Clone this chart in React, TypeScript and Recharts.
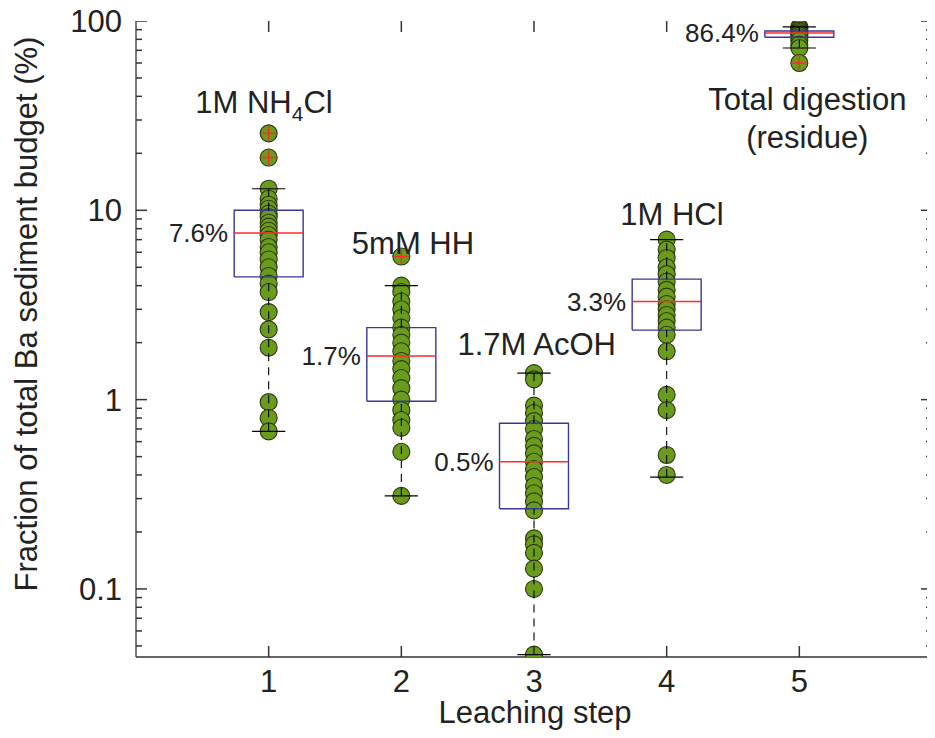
import React from 'react';
import { ComposedChart, Scatter, XAxis, YAxis } from 'recharts';

// ---------------- data ----------------
const steps = [1, 2, 3, 4, 5];

const step1Points = [13.0, 11.5, 10.7, 10.2, 9.6, 9.2, 8.6, 8.2, 7.8, 7.4, 7.0, 6.4, 6.0, 5.5, 5.0, 4.5, 4.1, 3.7, 2.9, 2.35, 1.88, 0.97, 0.8, 0.68];
const step2Points = [4.0, 3.7, 3.3, 3.0, 2.7, 2.4, 2.2, 2.0, 1.8, 1.6, 1.45, 1.3, 1.15, 1.0, 0.88, 0.78, 0.71, 0.53, 0.31];
const step3Points = [1.38, 1.28, 0.93, 0.85, 0.77, 0.7, 0.62, 0.57, 0.52, 0.47, 0.43, 0.39, 0.35, 0.32, 0.29, 0.26, 0.185, 0.172, 0.155, 0.128, 0.1, 0.045];
const step4Points = [7.0, 6.2, 5.6, 5.0, 4.6, 4.2, 3.8, 3.5, 3.2, 3.0, 2.8, 2.6, 2.4, 2.2, 1.8, 1.06, 0.88, 0.51, 0.4];
const step5Points = [93, 91, 89, 87.5, 86, 84, 82, 79, 75, 72];

const step1Outliers = [25.5, 19.0];
const step2Outliers = [5.7];
const step3Outliers: number[] = [];
const step4Outliers: number[] = [];
const step5Outliers = [60];

const q1Values = [4.45, 0.98, 0.265, 2.33, 82];
const medianValues = [7.6, 1.7, 0.47, 3.3, 86.4];
const q3Values = [10.0, 2.4, 0.75, 4.33, 88.5];
const whiskerLow = [0.68, 0.31, 0.045, 0.39, 72];
const whiskerHigh = [13.0, 4.0, 1.38, 7.0, 93];
const medianLabels = ['7.6%', '1.7%', '0.5%', '3.3%', '86.4%'];

const annotationLabels = ['1M NH4Cl', '5mM HH', '1.7M AcOH', '1M HCl', 'Total digestion', '(residue)'];
const annotationX = [0.965, 2.088, 3.02, 4.04, 5.06, 5.06];
const annotationY = [37.3, 6.7, 1.97, 9.55, 38.7, 24.4];

const xDomain = [0, 6];
const yDomain = [0.0437, 100];
const xTicks = [1, 2, 3, 4, 5];
const yMajorTicks = [0.1, 1, 10, 100];
const yMinorTicks = [0.05, 0.06, 0.07, 0.08, 0.09, 0.2, 0.3, 0.4, 0.5, 0.6, 0.7, 0.8, 0.9, 2, 3, 4, 5, 6, 7, 8, 9, 20, 30, 40, 50, 60, 70, 80, 90];

const xTitle = 'Leaching step';
const yTitle = 'Fraction of total Ba sediment budget (%)';

// ---------------- layout & styles ----------------
const CHART_W = 927;
const CHART_H = 730;
const MARGIN = { top: 13, right: 3, bottom: 0, left: 0 };
const X_AXIS_H = 81;
const Y_AXIS_W = 128;
const PLOT_H = CHART_H - MARGIN.top - MARGIN.bottom - X_AXIS_H;

const FONT = '"Liberation Sans", Arial, Helvetica, sans-serif';
const TEXT = '#222222';
const AXIS = '#333333';
const GREEN = '#6a9c1c';
const DARK = '#2b3512';
const RED = '#ff2a2a';
const BLUE = '#383896';
const BOX_HALF = 0.26;
const CAP_HALF = 0.125;
const MAJOR_LEN = 11;
const MINOR_LEN = 6;

const allPoints = [step1Points, step2Points, step3Points, step4Points, step5Points];
const allOutliers = [step1Outliers, step2Outliers, step3Outliers, step4Outliers, step5Outliers];

const pointData = allPoints.map((vals, i) => vals.map((v) => ({ x: steps[i], y: v })));
const outlierData = allOutliers.map((vals, i) => vals.map((v) => ({ x: steps[i], y: v })));
const boxData = steps.map((s, i) => [
  { x: s - BOX_HALF, y: q1Values[i] },
  { x: s + BOX_HALF, y: q1Values[i] },
  { x: s + BOX_HALF, y: q3Values[i] },
  { x: s - BOX_HALF, y: q3Values[i] },
  { x: s - BOX_HALF, y: q1Values[i] },
]);
const medianData = steps.map((s, i) => [
  { x: s - BOX_HALF, y: medianValues[i] },
  { x: s + BOX_HALF, y: medianValues[i] },
]);
const upperWhiskerData = steps.map((s, i) => [
  { x: s, y: q3Values[i] },
  { x: s, y: whiskerHigh[i] },
]);
const lowerWhiskerData = steps.map((s, i) => [
  { x: s, y: whiskerLow[i] },
  { x: s, y: q1Values[i] },
]);
const upperCapData = steps.map((s, i) => [
  { x: s - CAP_HALF, y: whiskerHigh[i] },
  { x: s + CAP_HALF, y: whiskerHigh[i] },
]);
const lowerCapData = steps.map((s, i) => [
  { x: s - CAP_HALF, y: whiskerLow[i] },
  { x: s + CAP_HALF, y: whiskerLow[i] },
]);
const medianLabelData = steps.map((s, i) => ({ x: s - BOX_HALF, y: medianValues[i], label: medianLabels[i] }));
const annotationData = annotationLabels.map((t, i) => ({ x: annotationX[i], y: annotationY[i], label: t }));

const yAllTicks = [...yMinorTicks, ...yMajorTicks].sort((a, b) => a - b);
const leftTickData = yAllTicks.map((v) => ({ x: xDomain[0], y: v, major: yMajorTicks.includes(v) }));
const rightTickData = yAllTicks.map((v) => ({ x: xDomain[1], y: v, major: yMajorTicks.includes(v) }));
const bottomTickData = xTicks.map((k) => ({ x: k, y: yDomain[0] }));
const topTickData = xTicks.map((k) => ({ x: k, y: yDomain[1] }));
const rightFrameData = [{ x: xDomain[1], y: yDomain[0] }];

// ---------------- renderers ----------------
function renderChem(s: string) {
  const m = s.match(/^(.*[A-Z])(\d+)([A-Z].*)$/);
  if (!m) return s;
  return [
    <tspan key="a">{m[1]}</tspan>,
    <tspan key="b" dy={8} fontSize={21}>{m[2]}</tspan>,
    <tspan key="c" dy={-8}>{m[3]}</tspan>,
  ];
}

const Empty = () => <g />;

const Dot = (p: any) => (
  <circle cx={p.cx} cy={p.cy} r={8.5} fill={GREEN} stroke={DARK} strokeWidth={1.1} />
);

const OutlierDot = (p: any) => (
  <g>
    <circle cx={p.cx} cy={p.cy} r={8.5} fill={GREEN} stroke={DARK} strokeWidth={1.1} />
    <line x1={p.cx - 7} x2={p.cx + 7} y1={p.cy} y2={p.cy} stroke={RED} strokeWidth={1.5} />
    <line x1={p.cx} x2={p.cx} y1={p.cy - 7} y2={p.cy + 7} stroke={RED} strokeWidth={1.5} />
  </g>
);

const MedianLabel = (p: any) => (
  <text x={p.cx - 6} y={p.cy} dy="0.36em" textAnchor="end" fontSize={26} fill={TEXT} fontFamily={FONT}>
    {p.payload.label}
  </text>
);

const Annotation = (p: any) => (
  <text x={p.cx} y={p.cy} dy="0.36em" textAnchor="middle" fontSize={31} fill={TEXT} fontFamily={FONT}>
    {renderChem(p.payload.label)}
  </text>
);

const LeftMark = (p: any) => (
  <line x1={p.cx} x2={p.cx + (p.payload.major ? MAJOR_LEN : MINOR_LEN)} y1={p.cy} y2={p.cy} stroke={AXIS} strokeWidth={1.5} />
);
const RightMark = (p: any) => (
  <line x1={p.cx} x2={p.cx - (p.payload.major ? MAJOR_LEN : MINOR_LEN)} y1={p.cy} y2={p.cy} stroke={AXIS} strokeWidth={1.5} />
);
const BottomMark = (p: any) => (
  <line x1={p.cx} x2={p.cx} y1={p.cy} y2={p.cy - MAJOR_LEN} stroke={AXIS} strokeWidth={1.5} />
);
const TopMark = (p: any) => (
  <line x1={p.cx} x2={p.cx} y1={p.cy} y2={p.cy + MAJOR_LEN} stroke={AXIS} strokeWidth={1.5} />
);
const RightFrame = (p: any) => (
  <line x1={p.cx - 0.7} x2={p.cx - 0.7} y1={p.cy} y2={p.cy - PLOT_H} stroke={AXIS} strokeWidth={1.3} />
);

const LeftTick = (p: any) => {
  const { x, y, payload } = p;
  const v = payload.value;
  if (!yMajorTicks.includes(v)) return <g />;
  return (
    <text x={x - 14} y={y} dy="0.36em" textAnchor="end" fontSize={31} fill={TEXT} fontFamily={FONT}>
      {String(v)}
    </text>
  );
};

const BottomTick = (p: any) => {
  const { x, y, payload } = p;
  return (
    <text x={x} y={y + 35} textAnchor="middle" fontSize={31} fill={TEXT} fontFamily={FONT}>
      {String(payload.value)}
    </text>
  );
};

const XTitle = () => (
  <text x={527} y={715} textAnchor="middle" fontSize={31} fill={TEXT} fontFamily={FONT}>
    {xTitle}
  </text>
);

const YTitle = () => (
  <text
    x={29}
    y={306}
    textAnchor="middle"
    fontSize={31}
    fill={TEXT}
    fontFamily={FONT}
    transform="rotate(-90 29 306)"
  >
    {yTitle}
  </text>
);

export default function App() {
  const lineSeries = (key: string, data: any[], line: any) => (
    <Scatter key={key} data={data} line={line} lineType="joint" shape={Empty} isAnimationActive={false} />
  );
  return (
    <ComposedChart width={CHART_W} height={CHART_H} margin={MARGIN}>
      <XAxis
        dataKey="x"
        type="number"
        domain={xDomain}
        ticks={xTicks}
        interval={0}
        allowDataOverflow
        height={X_AXIS_H}
        tickSize={0}
        tickMargin={0}
        tick={BottomTick}
        tickLine={false}
        axisLine={{ stroke: AXIS, strokeWidth: 1.3 }}
        label={{ content: XTitle }}
      />
      <XAxis
        xAxisId="top"
        orientation="top"
        dataKey="x"
        type="number"
        domain={xDomain}
        ticks={xTicks}
        interval={0}
        allowDataOverflow
        height={0}
        tick={false}
        tickLine={false}
        axisLine={{ stroke: AXIS, strokeWidth: 1.3 }}
      />
      <YAxis
        dataKey="y"
        type="number"
        scale="log"
        domain={yDomain}
        ticks={yAllTicks}
        interval={0}
        allowDataOverflow
        width={Y_AXIS_W}
        tickSize={0}
        tickMargin={0}
        tick={LeftTick}
        tickLine={false}
        axisLine={{ stroke: AXIS, strokeWidth: 1.3 }}
        label={{ content: YTitle }}
      />
      <Scatter xAxisId="top" data={[{ x: 1, y: 1 }]} shape={Empty} isAnimationActive={false} />

      <Scatter data={rightFrameData} shape={RightFrame} isAnimationActive={false} />
      <Scatter data={leftTickData} shape={LeftMark} isAnimationActive={false} />
      <Scatter data={rightTickData} shape={RightMark} isAnimationActive={false} />
      <Scatter data={bottomTickData} shape={BottomMark} isAnimationActive={false} />
      <Scatter data={topTickData} shape={TopMark} isAnimationActive={false} />

      {pointData.map((d, i) => (
        <Scatter key={`pts${i}`} data={d} shape={Dot} isAnimationActive={false} />
      ))}
      {outlierData.map((d, i) => (
        <Scatter key={`out${i}`} data={d} shape={OutlierDot} isAnimationActive={false} />
      ))}
      {boxData.map((d, i) => lineSeries(`box${i}`, d, { stroke: BLUE, strokeWidth: 1.4 }))}
      {upperWhiskerData.map((d, i) =>
        lineSeries(`uw${i}`, d, { stroke: '#000', strokeWidth: 1.1, strokeDasharray: '8 6' })
      )}
      {lowerWhiskerData.map((d, i) =>
        lineSeries(`lw${i}`, d, { stroke: '#000', strokeWidth: 1.1, strokeDasharray: '8 6' })
      )}
      {upperCapData.map((d, i) => lineSeries(`uc${i}`, d, { stroke: '#000', strokeWidth: 1.2 }))}
      {lowerCapData.map((d, i) => lineSeries(`lc${i}`, d, { stroke: '#000', strokeWidth: 1.2 }))}
      {medianData.map((d, i) => lineSeries(`med${i}`, d, { stroke: RED, strokeWidth: 1.5 }))}

      <Scatter data={medianLabelData} shape={MedianLabel} isAnimationActive={false} />
      <Scatter data={annotationData} shape={Annotation} isAnimationActive={false} />
    </ComposedChart>
  );
}
